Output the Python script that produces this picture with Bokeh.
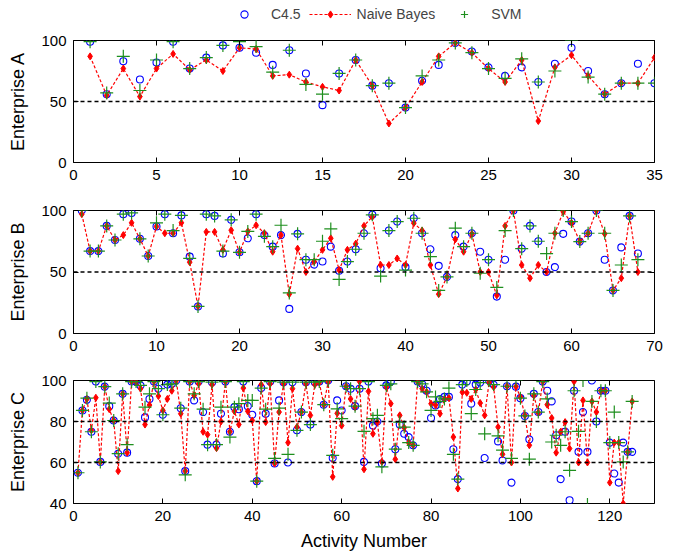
from bokeh.plotting import figure
from bokeh.models import (ColumnDataSource, Range1d, Span, Legend, LegendItem,
                          LinearAxis, FixedTicker, CustomJSTickFormatter)
from bokeh.layouts import column
from bokeh.embed import file_html
from bokeh.resources import INLINE

# ---------------- data ----------------
c45_a = [99, 56, 83, 68, 82, 99, 77, 86, 96, 94, 90, 80, 92, 73, 47, 73, 84, 63, 65, 45,
         67, 80, 98, 91, 78, 71, 78, 66, 81, 94, 75, 56, 65, 81, 65]
nb_a = [87, 55, 77, 54, 77, 89, 76, 84, 75, 94, 93, 71, 72, 66, 62, 59, 84, 63, 32, 45,
        66, 87, 98, 90, 77, 66, 84, 34, 78, 88, 71, 56, 65, 65, 86]
svm_a = [99, 57, 87, 59, 84, 99, 77, 86, 96, 99, 95, 74, 92, 64, 56, 73, 84, 63, 65, 45,
         71, 84, 98, 90, 77, 69, 85, 66, 75, 100, 70, 56, 65, 65, 65]

c45_b = [100, 67, 67, 87.5, 76, 97, 98, 77, 63, 87, 97, 81.5, 96, 62.5, 22, 97, 95.6, 65, 92.4, 66,
         77.4, 97, 80, 70.6, 80, 20, 81, 60, 56, 58.5, 70.6, 51, 58.5, 68.5, 81.5, 96.5, 53, 83.7, 91, 54,
         93.7, 81.5, 68.5, 55, 46, 80, 70.6, 81.5, 66.5, 60, 30, 60, 100, 69, 87.5, 75, 50, 54, 81, 91,
         74.7, 81.5, 100, 60, 35, 70, 95.6, 65]
nb_b = [97, 67, 67, 87.5, 76, 80, 90, 77, 63, 87, 81.5, 81.5, 90, 58, 22, 82.6, 82.6, 68, 84, 66,
        83, 88, 81.5, 66.5, 80, 32, 69, 50, 58.5, 68, 77.4, 51.6, 68, 73, 87.5, 95, 55.7, 55.7, 61, 55.7,
        89.7, 83.7, 55.7, 32, 46, 76.6, 66.5, 81, 50, 50, 31, 87.5, 100, 55.7, 45, 55.7, 50, 81.5, 99, 90,
        74.7, 81.5, 100, 81, 35, 45, 95.6, 50]
svm_b = [100, 67, 67, 87.5, 76, 97, 98, 77, 63, 90, 97, 83.7, 96, 61, 22, 97, 95.6, 67, 92.4, 66,
         83, 97, 79, 70.6, 88, 33, 81, 60, 60, 75, 85, 44, 58.5, 68.5, 81.5, 96.5, 46.7, 83.7, 91, 51.6,
         93.7, 81.5, 62.5, 35, 46, 85.6, 70.6, 81.5, 49, 60, 37.5, 83.7, 100, 69, 87.5, 75, 65, 81.5, 100, 91,
         74.7, 81.5, 100, 81.5, 35, 55.7, 95.6, 60]

c45_c = [55, 85.4, 90.6, 75, 99.5, 60.3, 97, 87.5, 80.5, 64.3, 93.5, 64.8, 99.5, 99.5, 97.6, 82, 91, 99.5, 96, 83.3,
         98, 98.4, 100, 86.5, 55.8, 99.5, 90.3, 99.5, 84.6, 68.7, 99.2, 68.7, 83.8, 99.5, 75, 87, 86, 99.5, 87.5, 83.3,
         50.9, 96.3, 83.8, 99.5, 59.5, 90.3, 99.2, 60, 99.2, 75.7, 84.6, 99.2, 78.5, 99.2, 99.5, 88.2, 100, 62.2, 90.3, 85.4,
         97.2, 96, 87.5, 96, 60.3, 99.5, 78, 80, 59.5, 97.6, 99.5, 66.5, 78.5, 74, 72.4, 68.4, 99.5, 98.4, 95, 81.7,
         87.8, 91, 92, 92, 66.5, 51.9, 98, 99.5, 88.7, 98, 99, 62.2, 100, 98, 70.3, 61, 97.2, 50.2, 97, 91.4,
         82.7, 71.3, 93.5, 84.6, 99.5, 95, 89.8, 73.3, 51.9, 75, 41.6, 95, 65.2, 84.6, 65.2, 100, 80, 95, 95, 69.7,
         54.6, 50.2, 69.7, 65.2, 65.2]
nb_c = [55, 85.4, 91, 75.7, 91.6, 60.3, 97, 86, 80.5, 55.8, 93.5, 64.8, 99.5, 99.5, 96, 78.5, 88, 99.5, 92.4, 85.4,
        91, 95, 100, 83.8, 55.8, 99.5, 92.7, 98.4, 75, 73.6, 98, 67, 80, 99.5, 75, 85, 78.5, 96.3, 85, 80.5,
        50.9, 98, 79.7, 98.4, 59.5, 84.6, 98.4, 69.7, 96, 77.3, 84.6, 98.4, 83, 98, 99, 88.2, 99.5, 53, 84, 78,
        97.2, 91, 87, 99.5, 56.7, 94.7, 74, 79.7, 60.3, 96.8, 88.7, 61.6, 83, 77, 69.7, 68.4, 99.5, 96, 94.5, 88.7,
        88, 83.8, 91, 91.5, 72.4, 47.3, 94.3, 94, 91, 95.6, 89, 83, 99.2, 96.8, 77.3, 64, 97.2, 60, 97, 92,
        83, 68.4, 92.7, 84.3, 99.5, 88.2, 81.7, 64.8, 75, 79.7, 66.8, 99.5, 60, 90.3, 60, 89.8, 84.6, 95, 95, 50.2,
        69.7, 69.7, 40, 65.2, 89.8]
svm_c = [55, 85.4, 91.4, 75, 99.5, 60.3, 97, 89, 80.5, 64.3, 93.5, 68.7, 99.5, 99.5, 97.6, 87, 93.5, 99.5, 96, 83.3,
         98, 98.4, 100, 86.5, 54, 99.5, 93.5, 99.5, 86, 68.7, 99.2, 68.7, 87, 99.5, 72.4, 87, 88.7, 99.5, 90.3, 90.3,
         50.9, 96.3, 86, 99.5, 62, 86.5, 99.2, 64, 99.2, 75.7, 84.6, 99.2, 78.5, 99.2, 99.5, 88.2, 100, 63.5, 86.2, 81.4,
         97.2, 96, 87.5, 96, 75.2, 99.5, 81.4, 83, 57.9, 97.6, 98.4, 66.5, 79.7, 77.3, 69.7, 68.4, 99.5, 98.4, 94.5, 85.4,
         92, 89.8, 91, 96.3, 64, 51.9, 98, 100, 83.8, 95.6, 99, 74, 100, 98, 73, 66, 97.2, 62, 100, 91.4,
         82.7, 61.6, 93.5, 84.6, 99.5, 91, 70, 73.3, 68.4, 75, 56.2, 95, 75.2, 100, 39.5, 89.8, 80, 95, 95, 69.7,
         84.6, 69.7, 60.3, 65.2, 89.8]

series_names = ["C4.5", "Naive Bayes", "SVM"]
panel_names = ["Enterprise A", "Enterprise B", "Enterprise C"]
x_ends = [35, 70, 130]
x_ticks = [list(range(0, 36, 5)), list(range(0, 71, 10)), list(range(0, 121, 20))]
y_ranges = [(0, 100), (0, 100), (40, 100)]
y_ticks = [[0, 50, 100], [0, 50, 100], [40, 60, 80, 100]]
ref_lines = [[50], [50], [60, 80]]
series = [(c45_a, nb_a, svm_a), (c45_b, nb_b, svm_b), (c45_c, nb_c, svm_c)]

FONT = "Liberation Sans"
BLUE = "#0000ff"
RED = "#ff0000"
GREEN = "#1e8f1e"

WIDTH = 677
LEFT, RIGHT = 73, 23
LEG_H = 26
borders = [(40 - LEG_H, 24), (24, 23), (24, 56)]
frame_h = [122, 123, 123]


def make_source(c45, nb, svm):
    return ColumnDataSource(dict(x=list(range(1, len(c45) + 1)), c45=c45, nb=nb, svm=svm))


def draw_series(p, src):
    r1 = p.scatter("x", "c45", source=src, marker="circle", size=7,
                   fill_color=None, line_color=BLUE, line_width=1.1)
    r2 = p.line("x", "nb", source=src, line_color=RED, line_dash="3 2", line_width=1.2)
    r3 = p.scatter("x", "nb", source=src, marker="diamond", size=7,
                   fill_color=RED, line_color=RED)
    r4 = p.scatter("x", "svm", source=src, marker="cross", size=13,
                   line_color=GREEN, line_width=1.2)
    return r1, r2, r3, r4


# ---- legend strip: its own small canvas above the panels; the series are
# drawn there out of view only so that the legend has glyphs to show ----
leg = figure(width=WIDTH, height=LEG_H, min_border_left=LEFT, min_border_right=RIGHT,
             min_border_top=0, min_border_bottom=0,
             x_range=Range1d(-3, -2), y_range=Range1d(0, 1),
             output_backend="svg", toolbar_location=None)
leg.axis.visible = False
leg.grid.visible = False
leg.outline_line_color = None
l1, l2, l3, l4 = draw_series(leg, make_source(*series[0]))
legend = Legend(items=[LegendItem(label=series_names[0], renderers=[l1]),
                       LegendItem(label=series_names[1], renderers=[l2, l3]),
                       LegendItem(label=series_names[2], renderers=[l4])],
                orientation="horizontal", location=(150, 3),
                border_line_color=None, background_fill_alpha=0,
                label_text_font=FONT, label_text_font_size="14px",
                glyph_width=42, glyph_height=18, spacing=8,
                padding=2, margin=0, label_standoff=6)
leg.add_layout(legend, "center")

figs = [leg]
for k in range(3):
    src = make_source(*series[k])
    top, bottom = borders[k]
    p = figure(width=WIDTH, height=top + frame_h[k] + bottom,
               min_border_left=LEFT, min_border_right=RIGHT,
               min_border_top=top, min_border_bottom=bottom,
               x_range=Range1d(0, x_ends[k]), y_range=Range1d(*y_ranges[k]),
               output_backend="svg", toolbar_location=None)
    p.background_fill_color = "white"
    p.border_fill_color = "white"
    p.outline_line_color = "black"
    p.outline_line_width = 1
    p.grid.visible = False

    for loc in ref_lines[k]:
        p.add_layout(Span(location=loc, dimension="width", line_color="black",
                          line_dash="4 3", line_width=1.3))

    draw_series(p, src)

    for ax in [p.xaxis[0], p.yaxis[0]]:
        ax.major_tick_in = 5
        ax.major_tick_out = 0
        ax.minor_tick_line_color = None
        ax.axis_line_color = None
        ax.major_label_text_font = FONT
        ax.major_label_text_font_size = "15px"
        ax.major_label_text_color = "black"
        ax.axis_label_text_font = FONT
        ax.axis_label_text_font_style = "normal"
        ax.axis_label_text_font_size = "18px"
        ax.axis_label_text_color = "black"
    p.xaxis[0].ticker = FixedTicker(ticks=x_ticks[k])
    p.yaxis[0].ticker = FixedTicker(ticks=y_ticks[k])
    p.yaxis[0].axis_label = panel_names[k]
    p.yaxis[0].major_label_standoff = 7
    p.yaxis[0].axis_label_standoff = 10
    p.xaxis[0].major_label_standoff = 7
    if k == 2:
        p.xaxis[0].axis_label = "Activity Number"
        p.xaxis[0].axis_label_standoff = 7

    # mirrored ticks on the top and right edges (box style)
    for side, ticks in (("above", x_ticks[k]), ("right", y_ticks[k])):
        ax2 = LinearAxis(ticker=FixedTicker(ticks=ticks),
                         formatter=CustomJSTickFormatter(code="return ' ';"))
        ax2.major_tick_in = 5
        ax2.major_tick_out = 0
        ax2.minor_tick_line_color = None
        ax2.axis_line_color = None
        ax2.major_label_standoff = 0
        ax2.major_label_text_font_size = "2px"
        p.add_layout(ax2, side)

    figs.append(p)

layout = column(*figs, spacing=0)
open("out.html", "w").write(file_html(layout, INLINE))
